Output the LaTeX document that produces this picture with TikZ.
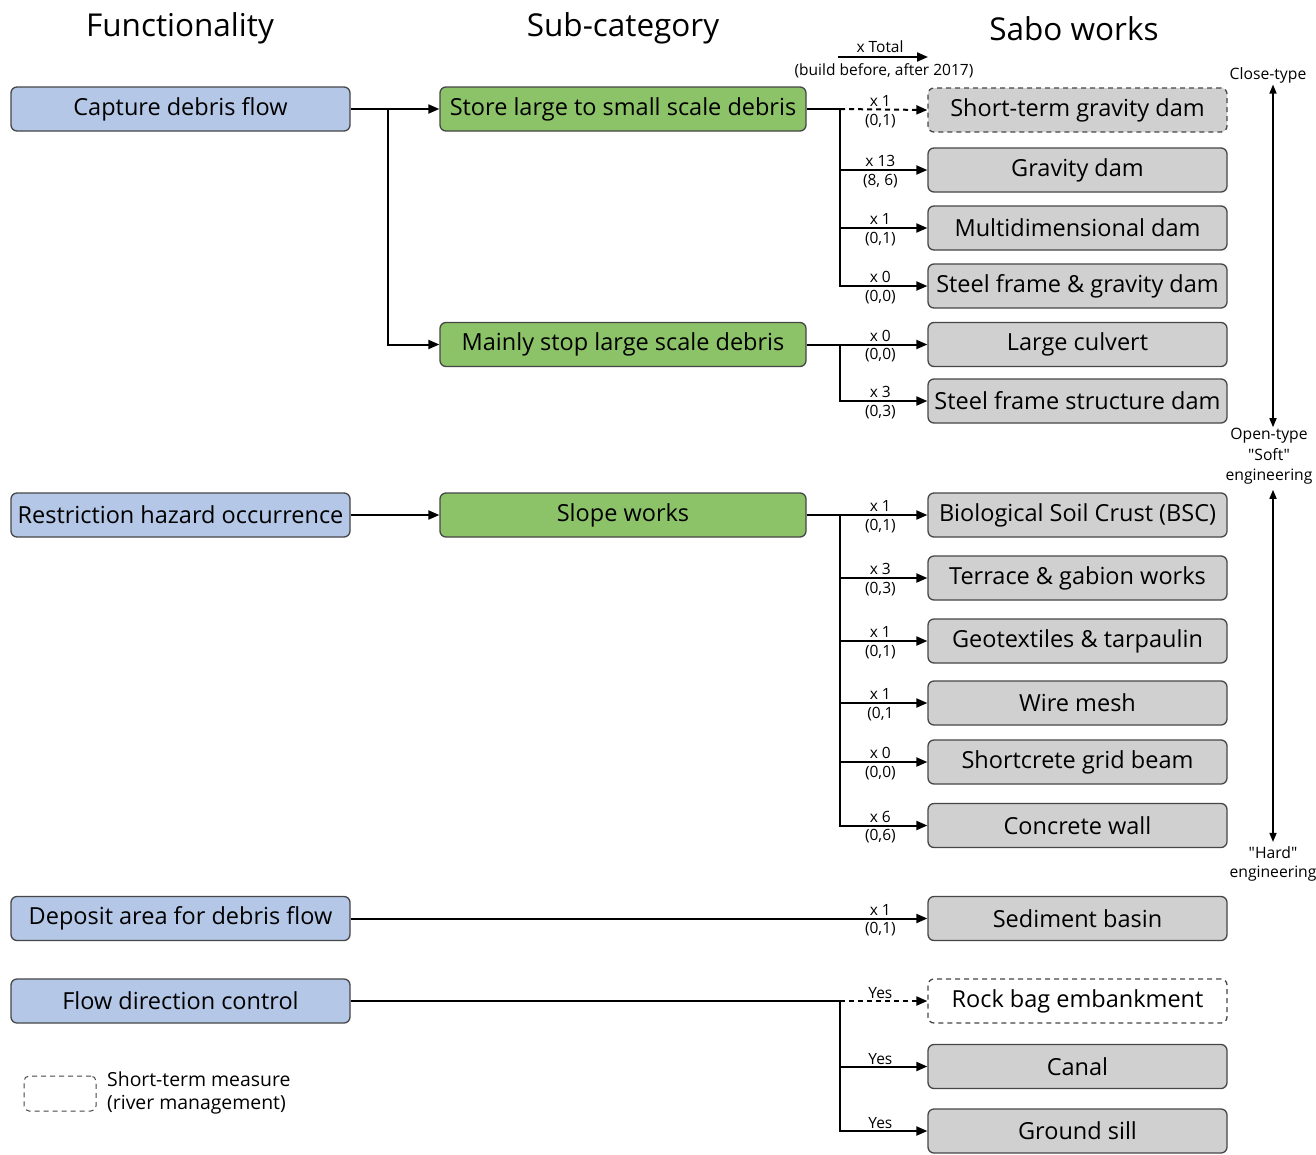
\documentclass[tikz,border=0pt]{standalone}
\usepackage{fontspec}
\setmainfont{Open Sans}[Ligatures=TeXOff]
\usetikzlibrary{arrows.meta,calc}
\definecolor{bluebox}{RGB}{180,199,231}
\definecolor{greenbox}{RGB}{140,194,104}
\definecolor{graybox}{RGB}{208,208,208}
\definecolor{edge}{RGB}{70,70,70}
\tikzset{
  base/.style={draw=edge,line width=1.3pt,rounded corners=6pt,minimum height=44pt,inner sep=2pt,font=\fontsize{23.5}{28}\selectfont},
  funcbox/.style={base,fill=bluebox,minimum width=339pt},
  subbox/.style={base,fill=greenbox,minimum width=366pt},
  workbox/.style={base,fill=graybox,minimum width=299pt},
  tempbox/.style={base,fill=graybox,dash pattern=on 5pt off 4pt,minimum width=299pt},
  tempwbox/.style={tempbox,fill=white},
  head/.style={font=\fontsize{31.5}{36}\selectfont},
  small/.style={font=\fontsize{15.5}{17}\selectfont,inner sep=0.5pt},
  side/.style={font=\fontsize{15.7}{20.5}\selectfont,align=center,inner sep=1pt},
  conn/.style={line width=2pt,draw=black},
  arr/.style={conn,-{Triangle[length=11pt,width=9pt]}},
  darr/.style={arr,dash pattern=on 5pt off 4pt},
  dbl/.style={line width=1.5pt,{Triangle[length=9pt,width=7pt]}-{Triangle[length=9pt,width=7pt]}},
}
\begin{document}
\begin{tikzpicture}[x=1pt,y=-1pt]
\useasboundingbox[fill=white] (0,0) rectangle (1316,1154);
% headers
\node[head] (h1) at (180,28.5) {Functionality};
\node[head] (h2) at (623,28.5) {Sub-category};
\node[head] (h3) at (1074,28.5) {Sabo works};
% top legend
\node[small] (xt) at (880,47) {x Total};
\coordinate (xa) at (838,57);
\coordinate (xb) at (928,57);
\draw[arr] (xa) -- (xb);
\node[small] (bb) at (884,70.5) {(build before, after 2017)};
% functionality
\node[funcbox] (cap) at (180.5,109) {Capture debris flow};
\node[funcbox] (res) at (180.5,515) {Restriction hazard occurrence};
\node[funcbox] (dep) at (180.5,918.5) {Deposit area for debris flow};
\node[funcbox] (flo) at (180.5,1001) {Flow direction control};
% sub-category
\node[subbox] (sto) at (623,109) {Store large to small scale debris};
\node[subbox] (mai) at (623,344.5) {Mainly stop large scale debris};
\node[subbox] (slo) at (623,515) {Slope works};
% works
\node[tempbox] (stg) at (1077.5,110) {Short-term gravity dam};
\node[workbox] (gd) at (1077.5,170) {Gravity dam};
\node[workbox] (md) at (1077.5,228) {Multidimensional dam};
\node[workbox] (sfg) at (1077.5,286) {Steel frame \& gravity dam};
\node[workbox] (lc) at (1077.5,344.5) {Large culvert};
\node[workbox] (sfs) at (1077.5,401) {Steel frame structure dam};
\node[workbox] (bsc) at (1077.5,515) {Biological Soil Crust (BSC)};
\node[workbox] (ter) at (1077.5,578) {Terrace \& gabion works};
\node[workbox] (geo) at (1077.5,641) {Geotextiles \& tarpaulin};
\node[workbox] (wm) at (1077.5,703) {Wire mesh};
\node[workbox] (sgb) at (1077.5,762) {Shortcrete grid beam};
\node[workbox] (cw) at (1077.5,825.5) {Concrete wall};
\node[workbox] (sb) at (1077.5,918.5) {Sediment basin};
\node[tempwbox] (rb) at (1077.5,1001) {Rock bag embankment};
\node[workbox] (can) at (1077.5,1066.5) {Canal};
\node[workbox] (gs) at (1077.5,1131) {Ground sill};
% branch points
\coordinate (b0) at (388,109);
\coordinate (t1) at (840,109);
\coordinate (t2) at (840,344.5);
\coordinate (t3) at (840,515);
\coordinate (t4) at (840,1001);
% functionality -> sub-category
\draw[arr] (cap.east) -- (sto.west);
\draw[arr] (b0) |- (mai.west);
\draw[arr] (res.east) -- (slo.west);
% store branch
\draw[conn] (sto.east) -- (t1);
\draw[darr] (t1) -- (stg.west);
\draw[arr] (t1) |- (sfg.west);
\draw[arr] (gd.west -| t1) -- (gd.west);
\draw[arr] (md.west -| t1) -- (md.west);
% mainly branch
\draw[arr] (mai.east) -- (lc.west);
\draw[arr] (t2) |- (sfs.west);
% slope branch
\draw[arr] (slo.east) -- (bsc.west);
\draw[arr] (t3) |- (cw.west);
\draw[arr] (ter.west -| t3) -- (ter.west);
\draw[arr] (geo.west -| t3) -- (geo.west);
\draw[arr] (wm.west -| t3) -- (wm.west);
\draw[arr] (sgb.west -| t3) -- (sgb.west);
% deposit
\draw[arr] (dep.east) -- (sb.west);
% flow
\draw[conn] (flo.east) -- (t4);
\draw[darr] (t4) -- (rb.west);
\draw[arr] (t4) |- (gs.west);
\draw[arr] (can.west -| t4) -- (can.west);
% labels
\foreach \n/\a/\b in {stg/{x 1}/{(0,1)}, gd/{x 13}/{(8, 6)}, md/{x 1}/{(0,1)}, sfg/{x 0}/{(0,0)}, lc/{x 0}/{(0,0)}, sfs/{x 3}/{(0,3)}, bsc/{x 1}/{(0,1)}, ter/{x 3}/{(0,3)}, geo/{x 1}/{(0,1)}, wm/{x 1}/{(0,1}, sgb/{x 0}/{(0,0)}, cw/{x 6}/{(0,6)}, sb/{x 1}/{(0,1)}}{
  \node[small,anchor=south] (la\n) at ($(\n.west)+(-47,-2.5)$) {\a};
  \node[small,anchor=north] (lb\n) at ($(\n.west)+(-47,3.5)$) {\b};
}
\foreach \n in {rb,can,gs}{
  \node[small,anchor=south] (ly\n) at ($(\n.west)+(-47,-1.5)$) {Yes};
}
% side scale
\node[side] (close) at (1268,75.5) {Close-type};
\node[side] (open) at (1269,456.5) {Open-type\\"Soft"\\engineering};
\node[side,font=\fontsize{15.7}{19}\selectfont] (hard) at (1273,863.5) {"Hard"\\engineering};
\draw[dbl] ($(close.south)+(5,0)$) -- ($(open.north)+(4,0)$);
\draw[dbl] ($(open.south)+(4,4)$) -- ($(hard.north)+(0,-3)$);
% bottom legend
\node[draw=edge,line width=1pt,dash pattern=on 5pt off 4pt,rounded corners=5pt,minimum width=72pt,minimum height=35pt,inner sep=0pt] (leg) at (60,1093.5) {};
\node[anchor=west,align=left,font=\fontsize{19.4}{23}\selectfont,inner sep=0pt] (legt) at (107,1093) {Short-term measure\\(river management)};
\end{tikzpicture}
\end{document}
